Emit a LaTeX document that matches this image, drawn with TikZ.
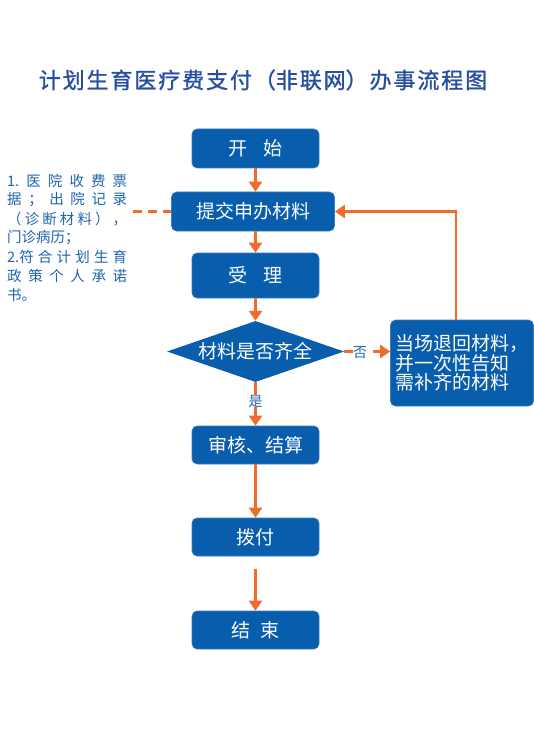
\documentclass[tikz,border=0pt]{standalone}
\usepackage{fontspec}
\setmainfont{Noto Sans CJK SC}
\newfontfamily\titlefont[FakeBold=1.2]{Noto Sans CJK SC}
\usetikzlibrary{arrows.meta,shapes.geometric}
\definecolor{boxblue}{RGB}{8,94,172}
\definecolor{arrorange}{RGB}{240,108,45}
\definecolor{titleblue}{RGB}{40,78,160}
\definecolor{noteblue}{RGB}{30,100,176}
\tikzset{
  stepbox/.style={draw=boxblue!80!white, line width=0.6pt, fill=boxblue, rounded corners=5pt, text=white,
    font=\fontsize{19}{21}\selectfont, inner sep=0pt, minimum height=39pt, minimum width=127pt},
  decision/.style={diamond, fill=boxblue, text=white, font=\fontsize{19}{21}\selectfont, inner sep=0pt,
    minimum width=177pt, minimum height=61pt, aspect=2.9},
  flow/.style={draw=arrorange, line width=2.4pt, -{Triangle[width=13pt,length=10pt]}},
  flowline/.style={draw=arrorange, line width=2.4pt},
  lbl/.style={text=noteblue, font=\fontsize{14}{16}\selectfont, inner sep=0pt},
  noteline/.style={text=noteblue, font=\fontsize{14.5}{16}\selectfont, inner sep=0pt, anchor=west}
}
\newcommand{\jline}[1]{\makebox[120pt][s]{#1}}
\newcommand{\tg}{\hspace{1.9pt}}
\begin{document}
\begin{tikzpicture}[x=1pt,y=-1pt]
\useasboundingbox (0,0) rectangle (534,751);
% title
\node[text=titleblue, font=\titlefont\fontsize{22}{24}\selectfont, inner sep=0pt] (title) at (263,80)
  {计\tg 划\tg 生\tg 育\tg 医\tg 疗\tg 费\tg 支\tg 付\tg （非\tg 联\tg 网）\tg 办\tg 事\tg 流\tg 程\tg 图};
% boxes
\node[stepbox] (start) at (255.5,148.5) {开\hspace{0.8em}始};
\node[stepbox, minimum width=163pt] (submit) at (253,211.5) {提交申办材料};
\node[stepbox, minimum height=45pt] (accept) at (255.5,275.5) {受\hspace{0.8em}理};
\node[decision] (check) at (255.5,351.5) {材料是否齐全};
\node[stepbox, minimum width=143pt, minimum height=86pt, align=left] (back) at (462,363)
  {当场退回材料，\\[-1.5pt]并一次性告知\\[-1.5pt]需补齐的材料};
\node[stepbox, minimum height=38pt] (audit) at (255.5,445) {审核、结算};
\node[stepbox, minimum height=38pt] (pay) at (255.5,537) {拨付};
\node[stepbox, minimum height=38pt] (finish) at (255.5,630) {结\hspace{0.5em}束};
% labels
\node[lbl] (no) at (360,353) {否};
\node[lbl] (yes) at (255.5,401) {是};
% arrows
\draw[flow] (start.south) -- (start.south |- submit.north);
\draw[flow] (start.south |- submit.south) -- (accept.north);
\draw[flow] (accept.south) -- (check.north);
\draw[flowline] (check.east) -- (check.east -| no.west);
\coordinate (noout) at (373,351.5);
\draw[flow] (noout) -- (noout -| back.west);
\draw[flowline] (check.south) -- (yes.north);
\draw[flow] (yes.south) -- (audit.north);
\draw[flow] (audit.south) -- (pay.north);
\coordinate (gap) at (255.5,569);
\draw[flow] (gap) -- (finish.north);
\coordinate (corner) at (456,211.5);
\draw[flow] (back.north -| corner) -- (corner) -- (submit.east);
% note text
\node[noteline] (n1) at (7,181) {\jline{1.\hfil 医\hfil 院\hfil 收\hfil 费\hfil 票}};
\node[noteline] (n2) at (7,200) {\jline{据\hfil ；\hfil 出\hfil 院\hfil 记\hfil 录}};
\node[noteline] (n3) at (7,219) {\jline{（\hfil 诊\hfil 断\hfil 材\hfil 料\hfil ）\hfil ，}};
\node[noteline] (n4) at (7,238) {门诊病历；};
\node[noteline] (n5) at (7,257) {\jline{2.符\hfil 合\hfil 计\hfil 划\hfil 生\hfil 育}};
\node[noteline] (n6) at (7,276) {\jline{政\hfil 策\hfil 个\hfil 人\hfil 承\hfil 诺}};
\node[noteline] (n7) at (7,295) {书。};
\coordinate (dashend) at (133,211.5);
\draw[arrorange, line width=2.4pt, dash pattern=on 9pt off 6pt] (dashend) -- (submit.west);
\end{tikzpicture}
\end{document}
